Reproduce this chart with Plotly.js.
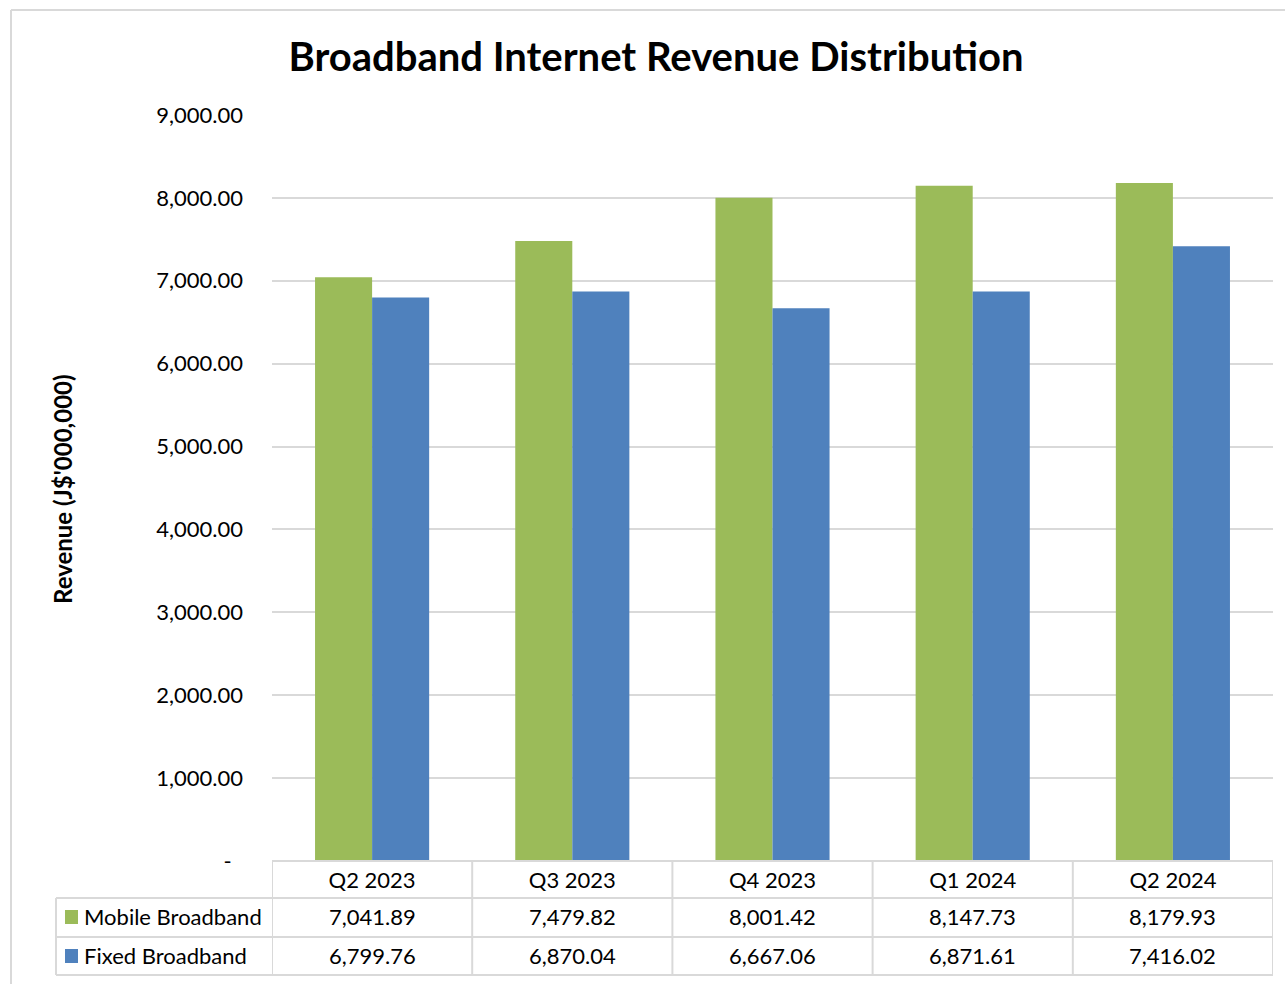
<!DOCTYPE html>
<html>
<head>
<meta charset="utf-8">
<script src="https://cdn.plot.ly/plotly-3.0.1.min.js"></script>
<style>
html,body{margin:0;padding:0;background:#fff;}
#chart{width:1285px;height:984px;}
</style>
</head>
<body>
<div id="chart"></div>
<script>
const categories = ['Q2 2023', 'Q3 2023', 'Q4 2023', 'Q1 2024', 'Q2 2024'];
const seriesNames = ['Mobile Broadband', 'Fixed Broadband'];
const mobile = [7041.89, 7479.82, 8001.42, 8147.73, 8179.93];
const fixed = [6799.76, 6870.04, 6667.06, 6871.61, 7416.02];
const yTickVals = [0, 1000, 2000, 3000, 4000, 5000, 6000, 7000, 8000, 9000];
const yTickText = ['-\u00a0\u00a0', '1,000.00', '2,000.00', '3,000.00', '4,000.00', '5,000.00', '6,000.00', '7,000.00', '8,000.00', '9,000.00'];
const titleText = 'Broadband Internet Revenue Distribution';
const yTitleText = "Revenue (J$'000,000)";

const colors = ['#9BBB59', '#4F81BD'];
const FONT = 'Lato, "Open Sans", sans-serif';
const gridColor = '#d9d9d9';
const TXT = 22;

// pixel helpers (plot area: x 272..1273, y 115..861)
const W = 1285, H = 984;
const L = 272, R = 12, T = 115, B = 123;
const pw = W - L - R, ph = H - T - B;
const px = p => (p - L) / pw;
const py = p => (H - B - p) / ph;

const fmt = v => v.toLocaleString('en-US', {minimumFractionDigits: 2, maximumFractionDigits: 2});

const traces = [
  {type: 'bar', name: seriesNames[0], x: categories, y: mobile, marker: {color: colors[0]}, hoverinfo: 'x+y+name'},
  {type: 'bar', name: seriesNames[1], x: categories, y: fixed, marker: {color: colors[1]}, hoverinfo: 'x+y+name'}
];

const line = {color: gridColor, width: 2};
const shapes = [];
// outer chart border
shapes.push({type: 'line', xref: 'paper', yref: 'paper', x0: px(11), x1: px(11), y0: py(10), y1: py(984), line: line});
shapes.push({type: 'line', xref: 'paper', yref: 'paper', x0: px(11), x1: px(1285), y0: py(10), y1: py(10), line: line});
// table horizontal lines
const rowLines = [861, 898, 937, 975];
rowLines.forEach((r, i) => {
  shapes.push({type: 'line', xref: 'paper', yref: 'paper', x0: i === 0 ? 0 : px(56), x1: 1, y0: py(r), y1: py(r), line: line});
});
// table vertical lines at category boundaries
for (let i = 0; i <= categories.length; i++) {
  shapes.push({type: 'line', xref: 'x', yref: 'paper', x0: i - 0.5, x1: i - 0.5, y0: py(861), y1: py(975), line: line});
}
shapes.push({type: 'line', xref: 'paper', yref: 'paper', x0: px(56), x1: px(56), y0: py(898), y1: py(975), line: line});
// legend keys
const rowCenters = [916, 955];
rowCenters.forEach((c, i) => {
  shapes.push({type: 'rect', xref: 'paper', yref: 'paper', x0: px(65), x1: px(78), y0: py(c - 6), y1: py(c + 8), fillcolor: colors[i], line: {width: 0}});
});

const annotations = [];
const seriesVals = [mobile, fixed];
rowCenters.forEach((c, i) => {
  annotations.push({xref: 'paper', yref: 'paper', x: px(82), y: py(c), xanchor: 'left', yanchor: 'middle', text: seriesNames[i], showarrow: false, font: {family: FONT, size: TXT, color: '#000'}});
  seriesVals[i].forEach((v, j) => {
    annotations.push({xref: 'x', yref: 'paper', x: categories[j], y: py(c), xanchor: 'center', yanchor: 'middle', text: fmt(v), showarrow: false, font: {family: FONT, size: TXT, color: '#000'}});
  });
});
// y axis title
annotations.push({xref: 'paper', yref: 'paper', x: px(62), y: py(489), xanchor: 'center', yanchor: 'middle', textangle: -90, text: '<b>' + yTitleText + '</b>', showarrow: false, font: {family: FONT, size: 24, color: '#000'}});

const layout = {
  width: W, height: H,
  margin: {l: L, r: R, t: T, b: B, pad: 0},
  paper_bgcolor: '#fff', plot_bgcolor: '#fff',
  showlegend: false,
  barmode: 'group', bargap: 0.43, bargroupgap: 0,
  title: {text: '<b>' + titleText + '</b>', x: px(656), xanchor: 'center', y: 1 - 57 / H, yanchor: 'middle', yref: 'container', xref: 'paper', font: {family: FONT, size: 40, color: '#000'}},
  xaxis: {
    type: 'category', range: [-0.5, categories.length - 0.5],
    showgrid: false, zeroline: false, showline: false, ticks: '',
    ticklabelstandoff: 4,
    tickfont: {family: FONT, size: TXT, color: '#000'}
  },
  yaxis: {
    range: [0, 9000], tickvals: yTickVals, ticktext: yTickText,
    showgrid: true, gridcolor: gridColor, gridwidth: 2,
    zeroline: false, showline: false, ticks: '',
    ticklabelstandoff: 28,
    tickfont: {family: FONT, size: TXT, color: '#000'}
  },
  shapes: shapes,
  annotations: annotations,
  font: {family: FONT, color: '#000'}
};

Plotly.newPlot('chart', traces, layout, {displayModeBar: false, staticPlot: true});
</script>
</body>
</html>
